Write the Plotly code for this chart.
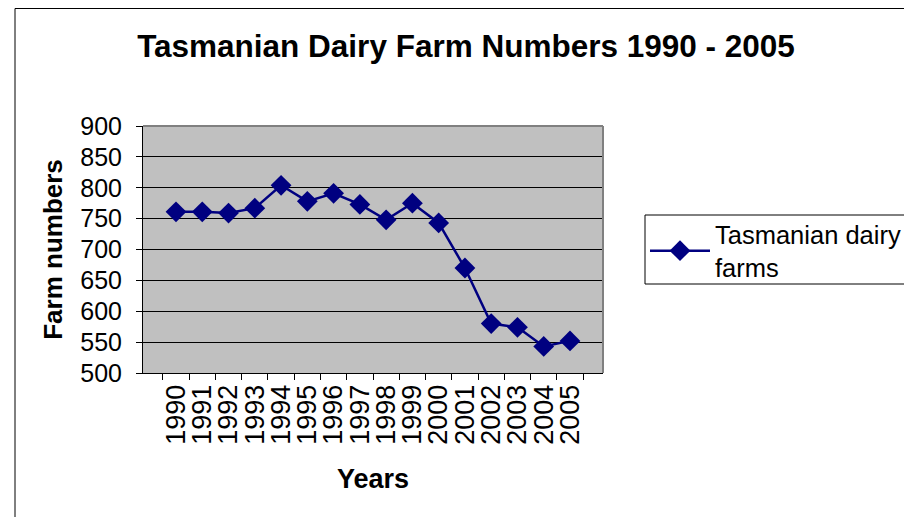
import plotly.graph_objects as go

# --- Data ---
years = [str(y) for y in range(1990, 2006)]
farms = [761, 761, 759, 767, 804, 778, 791, 773, 748, 775, 743, 670, 580, 574, 543, 552]
y_ticks = [500, 550, 600, 650, 700, 750, 800, 850, 900]

# page has an 8px body margin, so the figure is shrunk to fit the window
W, H = 904, 509
L, R, T, B = 135, 595, 118, 365   # plot area in figure pixels

def px_x(x):
    return (x - L) / (R - L)

def px_y(y):
    return (B - y) / (B - T)

fig = go.Figure()

fig.add_trace(go.Scatter(
    x=years, y=farms,
    mode="lines+markers",
    name="Tasmanian dairy<br>farms",
    line=dict(color="#000080", width=2.5),
    marker=dict(symbol="diamond", size=16, color="#000080"),
))

font = "Liberation Sans, Arial, sans-serif"

fig.update_layout(
    width=W, height=H,
    margin=dict(l=L, r=W - R, t=T, b=H - B, pad=0, autoexpand=False),
    paper_bgcolor="white",
    plot_bgcolor="#C0C0C0",
    font=dict(family=font, color="black"),
    title=dict(
        text="<b>Tasmanian Dairy Farm Numbers 1990 - 2005</b>",
        font=dict(size=31.5, family=font),
        x=458 / W, xanchor="center",
        y=1 - 38 / H, yanchor="middle",
    ),
    showlegend=True,
    legend=dict(
        x=px_x(637), xanchor="left",
        y=px_y(203), yanchor="top",
        borderwidth=0,
        bgcolor="rgba(0,0,0,0)",
        font=dict(size=25.5, family=font),
        itemwidth=60,
        tracegroupgap=0,
    ),
    xaxis=dict(
        type="category",
        tickmode="array", tickvals=years, ticktext=years,
        tickson="boundaries",
        ticks="outside", ticklen=6, tickcolor="black",
        tickangle=-90,
        tickfont=dict(size=27),
        showgrid=False,
        showline=True, linecolor="black", linewidth=1,
        title=dict(text="<b>Years</b>", font=dict(size=27), standoff=25),
    ),
    yaxis=dict(
        range=[500, 900],
        tickvals=y_ticks,
        ticks="outside", ticklen=6, tickcolor="black",
        ticklabelstandoff=9,
        tickfont=dict(size=25),
        showgrid=True, gridcolor="black", gridwidth=1,
        showline=True, linecolor="black", linewidth=1,
        zeroline=False,
        title=dict(text="<b>Farm numbers</b>", font=dict(size=26), standoff=10),
    ),
)

# gray border on top/right of plot area
fig.add_shape(type="line", xref="paper", yref="paper", x0=0, x1=1, y0=1, y1=1,
              line=dict(color="#808080", width=2))
fig.add_shape(type="line", xref="paper", yref="paper", x0=1, x1=1, y0=0, y1=1,
              line=dict(color="#808080", width=2))

# legend box, running off the right edge like the reference
fig.add_shape(type="rect", xref="paper", yref="paper",
              x0=px_x(637), x1=px_x(W + 20), y0=px_y(276), y1=px_y(207),
              line=dict(color="black", width=1), fillcolor="white", layer="below")

# chart-area border (top and left visible, rest cut off)
fig.add_shape(type="rect", xref="paper", yref="paper",
              x0=px_x(7), x1=px_x(W + 20), y0=px_y(H + 20), y1=px_y(0.5),
              line=dict(color="black", width=1), fillcolor="rgba(0,0,0,0)")

fig.write_html("out.html")
